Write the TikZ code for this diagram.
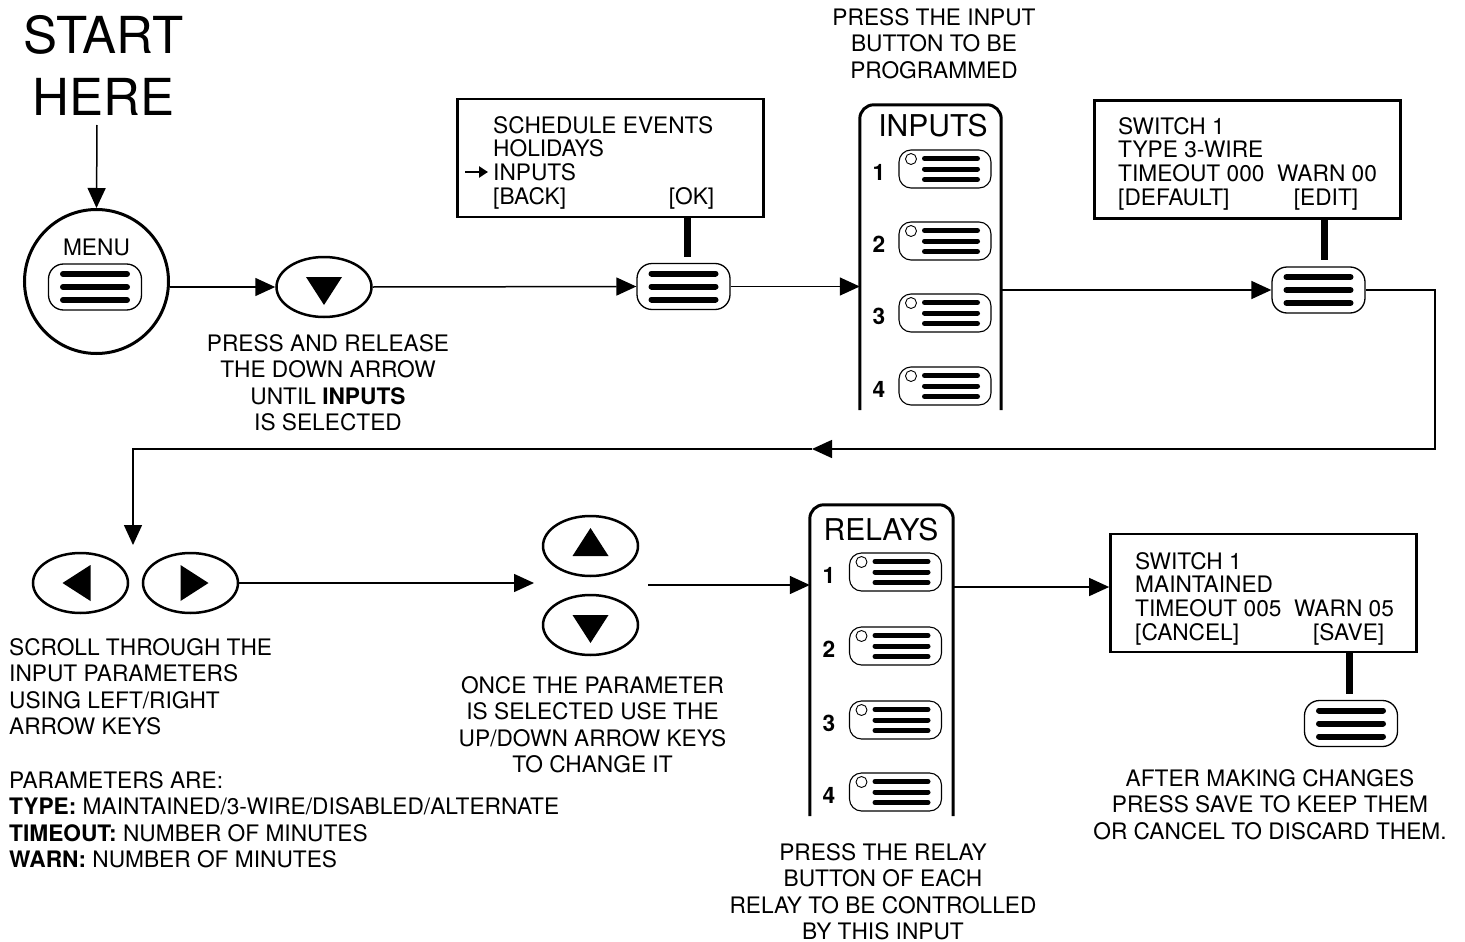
\documentclass[tikz,border=0pt]{standalone}
\usepackage{fontspec}
\setmainfont{TeX Gyre Heros}
\usetikzlibrary{arrows.meta,shapes.geometric}

\tikzset{
  lbl/.style={inner sep=0pt, font=\fontsize{22.7}{26.5}\selectfont},
  scr/.style={inner sep=0pt, align=left, anchor=north west, font=\fontsize{22.7}{23.7}\selectfont},
  num/.style={inner sep=0pt, font=\bfseries\fontsize{22.7}{26.5}\selectfont},
  ttl/.style={inner sep=0pt, font=\fontsize{30}{30}\selectfont},
  screen/.style={draw, line width=2.7pt, minimum width=306pt, minimum height=118pt, inner sep=0pt},
  flow/.style={line width=1.5pt, -{Triangle[length=20pt,width=18pt]}},
  stem/.style={line width=7pt},
  panel/.style={line width=3pt, rounded corners=14pt},
  keybtn/.style={draw, line width=1.3pt, rounded corners=15pt, minimum width=93pt,
    minimum height=46pt, inner sep=0pt, path picture={
      \foreach \dy in {-13,0,13}
        \draw[line width=6pt, line cap=round]
          ([shift={(-32,\dy)}]path picture bounding box.center) -- ++(64,0);}},
  ledbtn/.style={draw, line width=1.1pt, rounded corners=12pt, minimum width=92pt,
    minimum height=38pt, inner sep=0pt, path picture={
      \draw[line width=0.9pt] ([shift={(-34,-10)}]path picture bounding box.center) circle[radius=5.5pt];
      \foreach \dy in {-10.5,0,10.5}
        \draw[line width=5pt, line cap=round]
          ([shift={(-20.5,\dy)}]path picture bounding box.center) -- ++(53,0);}},
  key/.style={draw, ellipse, line width=2.5pt, minimum width=95pt, minimum height=60pt, inner sep=0pt},
  downkey/.style={key, path picture={\fill ([shift={(-18,-10)}]path picture bounding box.center)
      -- ++(36,0) -- ++(-18,28) -- cycle;}},
  upkey/.style={key, path picture={\fill ([shift={(-18,10)}]path picture bounding box.center)
      -- ++(36,0) -- ++(-18,-28) -- cycle;}},
  leftkey/.style={key, path picture={\fill ([shift={(10,-18)}]path picture bounding box.center)
      -- ++(0,36) -- ++(-28,-18) -- cycle;}},
  rightkey/.style={key, path picture={\fill ([shift={(-10,-18)}]path picture bounding box.center)
      -- ++(0,36) -- ++(28,-18) -- cycle;}},
}

\begin{document}
\begin{tikzpicture}[x=1pt,y=-1pt]
\useasboundingbox (0,0) rectangle (1465,942);

% ---- start and MENU key
\node[inner sep=0pt, anchor=north, align=center, font=\fontsize{51}{62}\selectfont]
  (start) at (103.5,15) {START\\HERE};
\coordinate (s0) at (97,125);
\node[draw, circle, line width=3pt, minimum size=144pt, inner sep=0pt] (menuc) at (96.5,281.5) {};
\node[lbl] (menulbl) at (96.5,247) {MENU};
\node[keybtn] (menub) at (95,287) {};
\draw[flow] (s0) -- (menuc.north);

% ---- down arrow key
\node[downkey] (dn1) at (324,287) {};
\draw[flow] (menub.east -| menuc.east) -- (dn1.west);
\node[lbl, anchor=north, align=center] (t1) at (328,334)
  {PRESS AND RELEASE\\THE DOWN ARROW\\UNTIL \textbf{INPUTS}\\IS SELECTED};

% ---- menu screen and OK key
\node[screen] (scr1) at (610.5,158) {};
\node[scr] (scr1t) at (493,116)
  {SCHEDULE EVENTS\\HOLIDAYS\\INPUTS\\\makebox[221pt][l]{[BACK]\hfill[OK]}};
\draw[line width=2.8pt, -{Triangle[length=9pt,width=11pt]}] (465,172) -- (488,172);
\node[keybtn] (okb) at (683.5,286.5) {};
\coordinate (okt) at ([xshift=3.5pt,yshift=6pt]okb.north);
\draw[stem] (okt |- scr1.south) -- (okt);
\draw[flow] (dn1.east) -- (okb.west);

% ---- INPUTS panel
\node[minimum width=141pt, minimum height=305pt, inner sep=0pt] (inp) at (930.5,257.5) {};
\draw[panel] (inp.south west) -- (inp.north west) -- (inp.north east) -- (inp.south east);
\node[ttl] (inpt) at (933,126) {INPUTS};
\foreach \i/\y in {1/169,2/241,3/313,4/386} {
  \node[ledbtn] (in\i) at (945,\y) {};
  \node[num] (inn\i) at (879,{\y+3}) {\i};
}
\node[lbl, anchor=north, align=center] (t2) at (934,8)
  {PRESS THE INPUT\\BUTTON TO BE\\PROGRAMMED};
\draw[flow] (okb.east) -- (okb.east -| inp.west);

% ---- switch screen and EDIT key
\node[screen] (scr2) at (1247.5,159.5) {};
\node[scr] (scr2t) at (1118,117)
  {SWITCH 1\\TYPE 3-WIRE\\TIMEOUT 000~~WARN 00\\\makebox[240pt][l]{[DEFAULT]\hfill[EDIT]}};
\node[keybtn] (edb) at (1318.5,290) {};
\coordinate (edt) at ([xshift=5.5pt,yshift=6pt]edb.north);
\draw[stem] (edt |- scr2.south) -- (edt);
\draw[flow] (edb.west -| inp.east) -- (edb.west);

% ---- return line to the second row
\coordinate (rt) at (1435,449);
\coordinate (mid) at (812,449);
\coordinate (lr) at (133,545);
\draw[flow] (edb.east) -| (rt) -- (mid);
\draw[flow] (mid) -| (lr);

% ---- left / right keys
\node[leftkey] (lk) at (80.5,583) {};
\node[rightkey] (rk) at (190.5,583) {};
\coordinate (udin) at (534,583);
\draw[flow] (rk.east) -- (udin);
\node[lbl, anchor=north west, align=left] (t3) at (9,638)
  {SCROLL THROUGH THE\\INPUT PARAMETERS\\USING LEFT/RIGHT\\ARROW KEYS};
\node[lbl, anchor=north west, align=left] (t4) at (9,771)
  {PARAMETERS ARE:\\\textbf{TYPE:} MAINTAINED/3-WIRE/DISABLED/ALTERNATE\\
   \textbf{TIMEOUT:} NUMBER OF MINUTES\\\textbf{WARN:} NUMBER OF MINUTES};

% ---- up / down keys
\node[upkey] (uk) at (590.5,546) {};
\node[downkey] (dk) at (590.5,625) {};
\coordinate (udout) at (648,585);
\node[lbl, anchor=north, align=center] (t5) at (592.5,676)
  {ONCE THE PARAMETER\\IS SELECTED USE THE\\UP/DOWN ARROW KEYS\\TO CHANGE IT};

% ---- RELAYS panel
\node[minimum width=143pt, minimum height=311pt, inner sep=0pt] (rel) at (881.5,660.5) {};
\draw[panel] (rel.south west) -- (rel.north west) -- (rel.north east) -- (rel.south east);
\node[ttl] (relt) at (881,530) {RELAYS};
\foreach \i/\y in {1/572,2/646,3/720,4/792} {
  \node[ledbtn] (rl\i) at (895.5,\y) {};
  \node[num] (rln\i) at (829,{\y+3}) {\i};
}
\draw[flow] (udout) -- (udout -| rel.west);
\node[lbl, anchor=north, align=center] (t6) at (883,843)
  {PRESS THE RELAY\\BUTTON OF EACH\\RELAY TO BE CONTROLLED\\BY THIS INPUT};

% ---- save screen and SAVE key
\node[screen] (scr3) at (1263.5,593) {};
\node[scr] (scr3t) at (1135,552)
  {SWITCH 1\\MAINTAINED\\TIMEOUT 005~~WARN 05\\\makebox[249pt][l]{[CANCEL]\hfill[SAVE]}};
\coordinate (s3in) at ([yshift=6pt]scr3.west);
\draw[flow] (s3in -| rel.east) -- (s3in);
\node[keybtn] (svb) at (1351,723.5) {};
\coordinate (svt) at ([xshift=-2pt,yshift=6pt]svb.north);
\draw[stem] (svt |- scr3.south) -- (svt);
\node[lbl, anchor=north, align=center] (t7) at (1270,769)
  {AFTER MAKING CHANGES\\PRESS SAVE TO KEEP THEM\\OR CANCEL TO DISCARD THEM.};
\end{tikzpicture}
\end{document}
